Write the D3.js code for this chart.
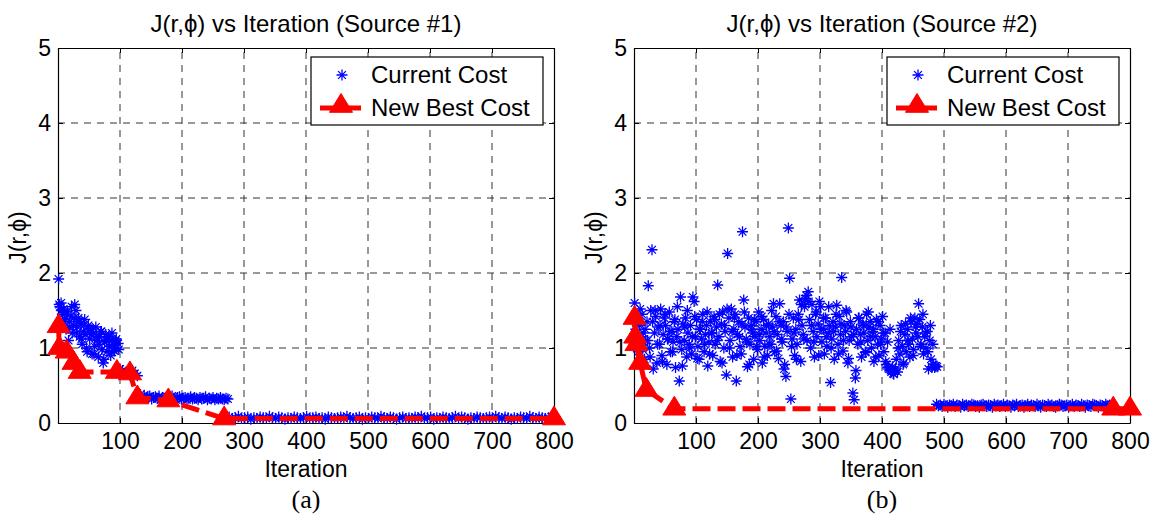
<!DOCTYPE html>
<html lang="en">
<head>
<meta charset="UTF-8">
<script src="https://cdnjs.cloudflare.com/ajax/libs/d3/7.8.5/d3.min.js"></script>
<style>
  body { margin: 0; background: #fff; }
  svg { font-family: "Liberation Sans", Arial, "DejaVu Sans", sans-serif; }
  .tick text { font-family: "Liberation Sans", Arial, sans-serif; font-size: 23px; fill: #000; }
  .domain { stroke: #000; stroke-width: 1.2; }
  .tick line { stroke: #000; }
</style>
</head>
<body>
<svg width="1157" height="523"></svg>
<script>
// axes
const xTicks = [100, 200, 300, 400, 500, 600, 700, 800];
const yTicks = [0, 1, 2, 3, 4, 5];

// Source #1 : current cost, in runs of (start iteration, step, values)
const curA1Start = 1, curA1Step = 2;
const curA1 = [1.92,1.55,1.60,1.45,1.52,1.38,1.25,1.48,1.10,1.35,
  1.42,1.20,1.30,1.58,1.50,1.28,1.40,1.15,1.33,1.05,
  1.22,1.38,1.18,0.95,1.30,1.12,1.25,0.92,1.20,1.02,
  1.28,1.10,0.88,1.15,1.22,0.98,0.80,1.08,1.18,0.95,
  1.12,1.02,0.90,1.20,1.05,0.96,1.10,1.00,1.06];
const curA1bStart = 2, curA1bStep = 4;
const curA1b = [1.58,1.50,1.35,1.45,1.28,1.55,1.40,1.20,1.35,1.12,
  1.30,1.00,1.25,1.18,0.92,1.15,1.05,1.22,0.85,1.10,
  1.15,0.95,1.08,1.12,0.98];
const curA2Start = 100, curA2Step = 4;
const curA2 = [0.72,0.70,0.66,0.68,0.64,0.70,0.66,0.63];
const curA3Start = 130, curA3Step = 3;
const curA3 = [0.36,0.38,0.34,0.37,0.33,0.35,0.36,0.32,0.34,0.35,
  0.33,0.36,0.31,0.34,0.33,0.35,0.32,0.34,0.36,0.33,
  0.31,0.34,0.35,0.32,0.33,0.34,0.31,0.33,0.35,0.32,
  0.34,0.33,0.31,0.34,0.32,0.33,0.35,0.31,0.33,0.32,
  0.34,0.31,0.33,0.32,0.34,0.32,0.31,0.33,0.32];
const curA4Start = 276, curA4Step = 5;
const curA4 = [0.08,0.06,0.07,0.09,0.06,0.07,0.08,0.05,0.07,0.06,
  0.08,0.07,0.06,0.09,0.07,0.06,0.08,0.07,0.05,0.07,
  0.06,0.08,0.07,0.06,0.07,0.09,0.06,0.07,0.08,0.06,
  0.07,0.05,0.08,0.07,0.06,0.07,0.08,0.06,0.09,0.07,
  0.06,0.07,0.08,0.05,0.07,0.06,0.08,0.07,0.06,0.09,
  0.07,0.06,0.08,0.07,0.05,0.07,0.08,0.06,0.07,0.06,
  0.08,0.07,0.09,0.06,0.07,0.08,0.05,0.07,0.06,0.08,
  0.07,0.06,0.07,0.09,0.06,0.08,0.07,0.05,0.07,0.06,
  0.08,0.07,0.06,0.07,0.08,0.06,0.09,0.07,0.06,0.08,
  0.07,0.05,0.07,0.06,0.08,0.07,0.06,0.09,0.07,0.06,
  0.08,0.07,0.06,0.07,0.08];
// Source #1 : new best cost
const bestAIter = [1, 2, 14, 25, 35, 95, 116, 128, 178, 268, 800];
const bestA = [1.29, 1.00, 0.95, 0.80, 0.68, 0.68, 0.66, 0.34, 0.30, 0.06, 0.06];

// Source #2 : current cost
const curB1Start = 1, curB1Step = 2;
const curB1 = [1.60,1.25,1.05,0.95,1.30,1.15,1.45,1.20,0.85,1.10,
  1.35,1.83,1.00,1.50,2.31,0.72,1.20,1.42,0.80,1.28,
  1.05,1.52,0.90,1.18,1.40,1.30,0.78,1.12,1.48,0.95,
  1.22,1.08,1.35,0.74,1.15,1.25,0.56,1.68,0.98,1.32,
  1.10,1.40,0.88,1.20,1.05,1.30,0.92,1.68,1.62,1.15,
  1.38,1.02,0.85,1.25,1.12,1.45,0.95,1.18,1.30,0.76,
  1.08,1.35,1.20,0.90,1.42,1.05,1.28,1.84,1.15,0.82,
  1.32,1.48,1.00,1.22,0.64,2.26,1.40,1.10,1.52,0.88,
  1.25,1.45,0.56,1.18,1.35,1.02,0.92,2.55,1.64,1.28,
  1.12,0.75,1.40,1.05,1.30,1.20,0.85,1.15,1.35,0.98,
  1.48,1.10,1.25,0.80,1.38,1.02,1.20,0.90,1.32,1.15,
  1.05,1.28,1.59,0.95,1.42,1.18,0.86,1.59,1.30,1.08,
  1.35,0.78,0.62,1.22,2.60,1.93,0.32,1.12,1.40,0.90,
  1.25,1.05,1.45,1.64,0.82,1.30,1.18,1.55,1.66,1.10,
  1.75,1.38,1.00,1.58,1.22,0.88,1.45,1.15,1.32,1.62,
  1.55,1.08,1.25,0.92,1.40,1.02,1.20,1.30,0.54,1.12,
  1.35,0.85,1.28,1.57,1.05,1.42,1.18,1.94,0.96,1.30,
  1.22,1.48,0.80,1.10,1.35,1.15,0.40,0.31,0.60,1.25,
  1.05,1.40,1.18,0.88,1.32,1.20,0.94,1.45,1.10,1.28,
  1.35,1.00,1.22,0.82,1.15,1.38,1.05,0.90,1.30,1.12,
  1.42,0.95,1.20,0.78,1.08,0.72,1.25,0.68,0.75,0.65,
  0.70,0.85,0.68,1.10,0.92,1.30,1.02,0.80,1.18,0.95,
  1.25,1.05,0.88,1.35,1.12,0.98,1.40,1.20,1.32,1.59,
  1.38,1.05,1.28,0.92,1.15,1.00,1.22,0.72,1.10,0.85,
  0.75,0.78,0.74,0.76,0.75];
const curB1bStart = 2, curB1bStep = 4;
const curB1b = [1.18,1.40,1.52,0.98,1.25,1.10,0.88,1.35,1.50,1.05,
  1.30,0.82,1.45,1.12,1.22,0.95,1.38,1.55,1.08,0.76,
  1.28,1.50,1.00,1.15,1.42,0.86,1.25,1.35,1.05,1.48,
  0.92,1.20,1.38,1.10,1.45,0.80,1.30,1.52,1.00,1.22,
  1.40,0.90,1.15,1.32,1.48,1.08,0.78,1.25,1.38,1.02,
  1.18,1.42,0.88,1.30,1.05,1.50,1.22,0.96,1.35,1.12,
  0.72,1.28,1.45,1.02,1.20,0.85,1.38,1.58,1.12,1.70,
  1.62,1.30,1.08,1.48,0.90,1.25,1.40,1.15,1.55,1.00,
  1.22,1.45,0.92,1.32,1.10,1.50,0.86,1.28,1.18,0.70,
  1.40,1.08,1.30,0.95,1.48,1.15,1.25,0.88,1.35,1.05,
  1.20,0.82,0.74,0.70,0.66,0.72,1.00,1.22,0.78,1.32,
  1.10,1.40,0.90,1.28,1.15,1.02,1.45,1.20,0.95,1.30,
  1.05,0.76];
const curB2Start = 488, curB2Step = 3;
const curB2 = [0.25,0.23,0.24,0.22,0.25,0.23,0.21,0.24,0.23,0.25,
  0.22,0.24,0.23,0.21,0.25,0.23,0.24,0.22,0.23,0.25,
  0.24,0.22,0.23,0.21,0.24,0.25,0.23,0.22,0.24,0.23,
  0.21,0.25,0.23,0.24,0.22,0.23,0.25,0.22,0.24,0.23,
  0.21,0.24,0.23,0.25,0.22,0.23,0.24,0.21,0.23,0.25,
  0.22,0.24,0.23,0.22,0.25,0.23,0.21,0.24,0.23,0.22,
  0.25,0.23,0.24,0.22,0.21,0.23,0.25,0.24,0.22,0.23,
  0.24,0.21,0.23,0.25,0.22,0.24,0.23,0.22,0.25,0.23,
  0.21,0.24,0.23,0.22,0.25,0.24,0.23,0.21,0.24,0.23,
  0.22,0.25,0.23,0.24,0.22,0.23];
// Source #2 : new best cost
const bestBIter = [1, 2, 4, 10, 20, 65, 773, 800];
const bestB = [1.40, 1.15, 1.05, 0.80, 0.44, 0.19, 0.19, 0.19];

const svg = d3.select('svg');
svg.append('rect').attr('width', 1157).attr('height', 523).attr('fill', '#fff');

const plotW = 496, plotTop = 48, plotBottom = 423;

function run(start, step, vals) {
    return vals.map((v, i) => ({ it: start + i * step, v: v }));
}

const starPath = 'M-5.5,0L5.5,0M0,-5.5L0,5.5M-3.9,-3.9L3.9,3.9M-3.9,3.9L3.9,-3.9';
const triPath = 'M0,-12.5L11.5,6.3L-11.5,6.3Z';

function drawPanel(cfg) {
    const x = d3.scaleLinear().domain([0, 800]).range([cfg.left, cfg.left + plotW]);
    const y = d3.scaleLinear().domain([0, 5]).range([plotBottom, plotTop]);
    const g = svg.append('g');

    // grid
    g.append('g').selectAll('line').data(xTicks.slice(0, -1)).join('line')
        .attr('x1', d => x(d)).attr('x2', d => x(d))
        .attr('y1', y(0)).attr('y2', y(5))
        .attr('stroke', '#333').attr('stroke-dasharray', '7,6');
    g.append('g').selectAll('line').data(yTicks.slice(1, -1)).join('line')
        .attr('x1', x(0)).attr('x2', x(800))
        .attr('y1', d => y(d)).attr('y2', d => y(d))
        .attr('stroke', '#333').attr('stroke-dasharray', '7,6');

    // box and ticks
    g.append('g').attr('transform', `translate(0,${y(0)})`)
        .call(d3.axisBottom(x).tickValues(xTicks).tickSize(-5).tickSizeOuter(0).tickPadding(10));
    g.append('g').attr('transform', `translate(${x(0)},0)`)
        .call(d3.axisLeft(y).tickValues(yTicks).tickSize(-5).tickSizeOuter(0).tickPadding(7).tickFormat(d3.format('d')));
    g.append('g').attr('transform', `translate(0,${y(5)})`)
        .call(d3.axisTop(x).tickValues(xTicks).tickSize(-5).tickSizeOuter(0).tickFormat(''));
    g.append('g').attr('transform', `translate(${x(800)},0)`)
        .call(d3.axisRight(y).tickValues(yTicks).tickSize(-5).tickSizeOuter(0).tickFormat(''));

    // current cost
    g.append('g').selectAll('path').data(cfg.current).join('path')
        .attr('d', starPath)
        .attr('transform', d => `translate(${x(d.it)},${y(d.v)})`)
        .attr('fill', 'none').attr('stroke', '#0000ff').attr('stroke-width', 1.3);

    // new best cost
    const best = cfg.bestIter.map((it, i) => ({ it: it, v: cfg.best[i] }));
    const line = d3.line().x(d => x(d.it)).y(d => y(d.v));
    g.append('path').attr('d', line(best))
        .attr('fill', 'none').attr('stroke', '#ff0000').attr('stroke-width', 5)
        .attr('stroke-dasharray', '18,7');
    g.append('g').selectAll('path').data(best).join('path')
        .attr('d', triPath)
        .attr('transform', d => `translate(${x(d.it)},${y(d.v)})`)
        .attr('fill', '#ff0000').attr('stroke', '#ff0000');

    // texts
    const cx = cfg.left + plotW / 2;
    g.append('text').attr('x', cx).attr('y', 32).attr('text-anchor', 'middle')
        .attr('font-size', 24).text(cfg.title);
    g.append('text').attr('x', cx).attr('y', 477).attr('text-anchor', 'middle')
        .attr('font-size', 23).text('Iteration');
    g.append('text').attr('x', cx).attr('y', 508).attr('text-anchor', 'middle')
        .attr('font-family', '"Liberation Serif", "Times New Roman", serif')
        .attr('font-size', 26).text(cfg.tag);
    g.append('text')
        .attr('transform', `translate(${cfg.left - 40},${(plotTop + plotBottom) / 2 + 2}) rotate(-90)`)
        .attr('text-anchor', 'middle').attr('dominant-baseline', 'central')
        .attr('font-size', 23).text('J(r,\u03D5)');

    // legend
    const lx = cfg.left + 253, ly = 57;
    const lg = g.append('g').attr('transform', `translate(${lx},${ly})`);
    lg.append('rect').attr('width', 232).attr('height', 68)
        .attr('fill', '#fff').attr('stroke', '#000').attr('stroke-width', 1.2);
    lg.append('path').attr('d', starPath).attr('transform', 'translate(31,18)')
        .attr('fill', 'none').attr('stroke', '#0000ff').attr('stroke-width', 1.3);
    lg.append('line').attr('x1', 9).attr('x2', 50).attr('y1', 51).attr('y2', 51)
        .attr('stroke', '#ff0000').attr('stroke-width', 5);
    lg.append('path').attr('d', triPath).attr('transform', 'translate(30,49)')
        .attr('fill', '#ff0000').attr('stroke', '#ff0000');
    lg.append('text').attr('x', 60).attr('y', 26).attr('font-size', 24).text('Current Cost');
    lg.append('text').attr('x', 60).attr('y', 59).attr('font-size', 24).text('New Best Cost');
}

drawPanel({
    left: 58,
    title: 'J(r,\u03D5) vs Iteration (Source #1)',
    tag: '(a)',
    current: [].concat(run(curA1Start, curA1Step, curA1), run(curA1bStart, curA1bStep, curA1b),
        run(curA2Start, curA2Step, curA2), run(curA3Start, curA3Step, curA3),
        run(curA4Start, curA4Step, curA4)),
    bestIter: bestAIter, best: bestA
});
drawPanel({
    left: 634,
    title: 'J(r,\u03D5) vs Iteration (Source #2)',
    tag: '(b)',
    current: [].concat(run(curB1Start, curB1Step, curB1), run(curB1bStart, curB1bStep, curB1b),
        run(curB2Start, curB2Step, curB2)),
    bestIter: bestBIter, best: bestB
});
</script>
</body>
</html>
